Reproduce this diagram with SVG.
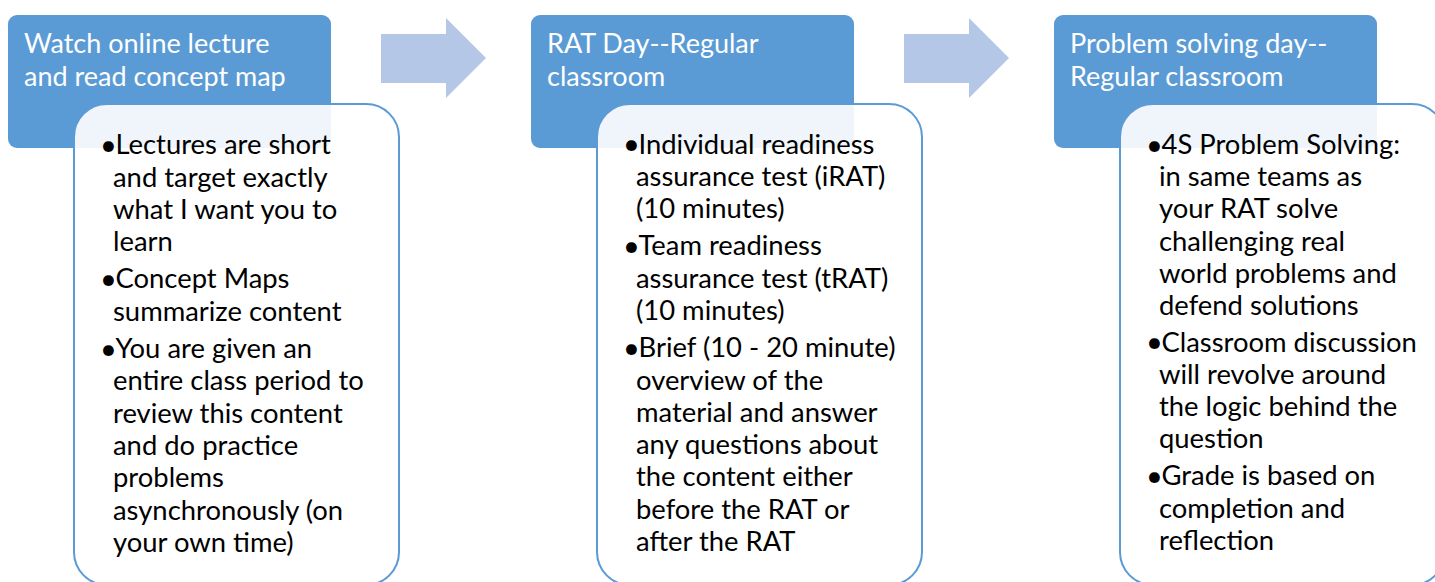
<svg xmlns="http://www.w3.org/2000/svg" width="1435" height="582" viewBox="0 0 1435 582">
<style>
.hdr{fill:#5B9BD5}
.card{fill:#FFFFFF;fill-opacity:0.9;stroke:#5B9BD5;stroke-width:2}
.arrow{fill:#B4C7E7}
.ht{font-family:Lato,"Liberation Sans",sans-serif;font-size:27px;fill:#FFFFFF}
.bt{font-family:Lato,"Liberation Sans",sans-serif;font-size:27.4px;fill:#000000}
.bu{font-family:Lato,"Liberation Sans",sans-serif;font-size:29px;fill:#000000}
</style>
<rect width="1435" height="582" fill="#FFFFFF"/>
<g id="connectors">
<polygon class="arrow" points="381,34 446,34 446,18 486,58 446,98 446,83 381,83"/>
<polygon class="arrow" points="904,34 969,34 969,18 1009,58 969,98 969,83 904,83"/>
</g>
<g id="node1">
<rect class="hdr" x="8" y="15" width="323" height="133" rx="9"/>
<text class="ht"><tspan x="24" y="53">Watch online lecture</tspan><tspan x="24" y="86">and read concept map</tspan></text>
<rect class="card" x="74" y="104" width="325" height="481" rx="33"/>
<text class="bu"><tspan x="100" y="154.5">•</tspan><tspan x="100" y="288.5">•</tspan><tspan x="100" y="358.5">•</tspan></text>
<text class="bt">
<tspan x="115.5" y="154">Lectures are short</tspan>
<tspan x="113" y="186.5">and target exactly</tspan>
<tspan x="113" y="218.5">what I want you to</tspan>
<tspan x="113" y="250.5">learn</tspan>
<tspan x="115.5" y="288">Concept Maps</tspan>
<tspan x="113" y="320.5">summarize content</tspan>
<tspan x="115.5" y="358">You are given an</tspan>
<tspan x="113" y="390">entire class period to</tspan>
<tspan x="113" y="423">review this content</tspan>
<tspan x="113" y="455">and do practice</tspan>
<tspan x="113" y="487">problems</tspan>
<tspan x="113" y="519.5">asynchronously (on</tspan>
<tspan x="113" y="552">your own time)</tspan>
</text>
</g>
<g id="node2">
<rect class="hdr" x="531" y="15" width="323" height="133" rx="9"/>
<text class="ht"><tspan x="547" y="53">RAT Day--Regular</tspan><tspan x="547" y="86">classroom</tspan></text>
<rect class="card" x="597" y="104" width="325" height="481" rx="33"/>
<text class="bu"><tspan x="623" y="154">•</tspan><tspan x="623" y="255.5">•</tspan><tspan x="623" y="357.5">•</tspan></text>
<text class="bt">
<tspan x="638.5" y="153.5">Individual readiness</tspan>
<tspan x="636" y="186">assurance test (iRAT)</tspan>
<tspan x="636" y="218">(10 minutes)</tspan>
<tspan x="638.5" y="255">Team readiness</tspan>
<tspan x="636" y="287.5">assurance test (tRAT)</tspan>
<tspan x="636" y="319.5">(10 minutes)</tspan>
<tspan x="638.5" y="357">Brief (10 - 20 minute)</tspan>
<tspan x="636" y="389.5">overview of the</tspan>
<tspan x="636" y="421.5">material and answer</tspan>
<tspan x="636" y="454">any questions about</tspan>
<tspan x="636" y="486">the content either</tspan>
<tspan x="636" y="518.5">before the RAT or</tspan>
<tspan x="636" y="550.5">after the RAT</tspan>
</text>
</g>
<g id="node3">
<rect class="hdr" x="1054" y="15" width="323" height="133" rx="9"/>
<text class="ht"><tspan x="1070" y="53">Problem solving day--</tspan><tspan x="1070" y="86">Regular classroom</tspan></text>
<rect class="card" x="1120" y="104" width="325" height="481" rx="33"/>
<text class="bu"><tspan x="1146" y="154.5">•</tspan><tspan x="1146" y="352">•</tspan><tspan x="1146" y="485.5">•</tspan></text>
<text class="bt">
<tspan x="1161.5" y="154">4S Problem Solving:</tspan>
<tspan x="1159" y="186">in same teams as</tspan>
<tspan x="1159" y="218">your RAT solve</tspan>
<tspan x="1159" y="250.5">challenging real</tspan>
<tspan x="1159" y="282.5">world problems and</tspan>
<tspan x="1159" y="315">defend solutions</tspan>
<tspan x="1161.5" y="351.5">Classroom discussion</tspan>
<tspan x="1159" y="384">will revolve around</tspan>
<tspan x="1159" y="416">the logic behind the</tspan>
<tspan x="1159" y="448">question</tspan>
<tspan x="1161.5" y="485">Grade is based on</tspan>
<tspan x="1159" y="517.5">completion and</tspan>
<tspan x="1159" y="550">reflection</tspan>
</text>
</g>
</svg>
